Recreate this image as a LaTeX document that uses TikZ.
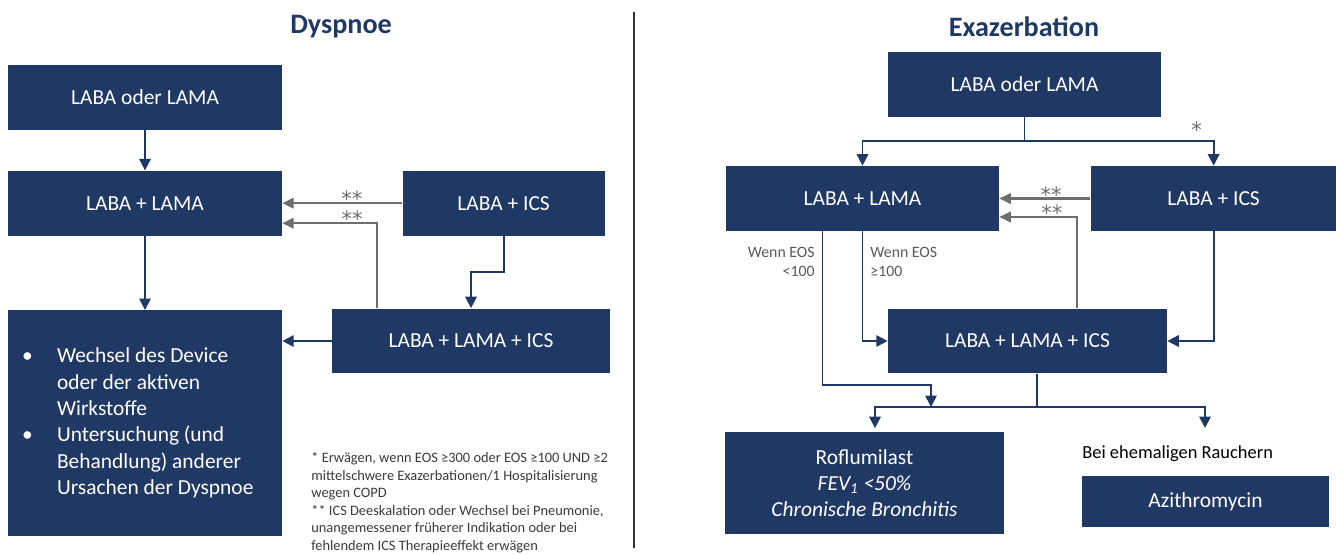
\documentclass[tikz,border=0pt]{standalone}
\usepackage{fontspec}
\setmainfont{Carlito}
\newfontfamily\starfont{DejaVu Sans}
\usepackage{tikz}
\usetikzlibrary{
    arrows.meta,
    calc,
    positioning
}
\definecolor{copdnavy}{HTML}{1F3864}
\definecolor{copdgrey}{HTML}{6E6E6E}
\definecolor{notegrey}{HTML}{595959}
\definecolor{notetext}{HTML}{3A3A3A}
\definecolor{rulegrey}{HTML}{333333}
\tikzstyle{therapy}=[
    rectangle,
    minimum height=1.3cm,
    inner sep=0pt,
    align=center,
    fill=copdnavy,
    text=white
]
\tikzstyle{heading}=[font=\bfseries\fontsize{16}{19}\selectfont,text=copdnavy]
\tikzstyle{cond}=[font=\fontsize{9}{10.8}\selectfont,text=notegrey,inner sep=4pt]
\tikzstyle{stars}=[font=\starfont\fontsize{12}{12}\selectfont,text=copdgrey,anchor=base,inner sep=0pt]
\tikzstyle{flowline}=[line width=1pt,draw=copdnavy]
\tikzstyle{arrow}=[flowline,-{Triangle[length=6.5pt,width=6.5pt]}]
\tikzstyle{backarrow}=[line width=1.2pt,draw=copdgrey,-{Triangle[length=6.5pt,width=6pt]}]

\begin{document}
\begin{tikzpicture}[x=0.02cm,y=-0.02cm,every node/.style={font=\fontsize{12.2}{15}\selectfont}]
\useasboundingbox (0,0) rectangle (1336,554);
\node[heading] (dysp) at (341,27) {Dyspnoe};
\node[heading] (exa) at (1024,27) {Exazerbation};
\draw[rulegrey,line width=1pt] (634,12) -- (634,548);

% left half
\node[therapy,minimum width=5.48cm] (b1) at (145,97.5) {LABA oder LAMA};
\node[therapy,minimum width=5.48cm,below=0.8cm of b1] (b2) {LABA + LAMA};
\node[therapy,minimum width=4.04cm,right=2.4cm of b2] (b3) {LABA + ICS};
\node[therapy,minimum width=5.48cm,minimum height=4.52cm,below=1.48cm of b2] (b5) {%
  \begin{tabular}{@{}p{0.7cm}@{}p{4.22cm}@{}}
  \textbullet & Wechsel des Device\\
   & oder der aktiven\\
   & Wirkstoffe\\
  \textbullet & Untersuchung (und\\
   & Behandlung) anderer\\
   & Ursachen der Dyspnoe
  \end{tabular}};
\node[therapy,minimum width=5.56cm] (b4) at (471,341) {LABA + LAMA + ICS};
\node[anchor=north west,inner sep=0pt,align=left,font=\fontsize{8.2}{10}\selectfont,text=notetext] (notes) at (311,452)
  {* Erwägen, wenn EOS ≥300 oder EOS ≥100 UND ≥2\\
   mittelschwere Exazerbationen/1 Hospitalisierung\\
   wegen COPD\\
   ** ICS Deeskalation oder Wechsel bei Pneumonie,\\
   unangemessener früherer Indikation oder bei\\
   fehlendem ICS Therapieeffekt erwägen};

\draw[arrow] (b1) -- (b2);
\draw[arrow] (b2) -- (b5);
\draw[backarrow] (b3) -- node[stars,pos=0.42,yshift=-2pt]{**} (b2);
\draw[backarrow] ([xshift=0.9cm]b4.north west) |- node[stars,pos=0.63,yshift=-2pt]{**} ([yshift=-0.4cm]b2.east);
\draw[arrow] (b3.south) -- ++(0,36) -| (b4);
\draw[arrow] (b4) -- (b4 -| b5.east);

% right half
\node[therapy,minimum width=5.46cm] (r1) at (1024.5,84.5) {LABA oder LAMA};
\node[therapy,minimum width=5.46cm] (r2) at (862.5,198.5) {LABA + LAMA};
\node[therapy,minimum width=4.92cm,right=1.82cm of r2] (r3) {LABA + ICS};
\node[therapy,minimum width=5.58cm] (r4) at (1027.5,341) {LABA + LAMA + ICS};
\node[therapy,minimum width=5.58cm,minimum height=2.04cm] (r5) at (864.5,483)
  {Roflumilast\\\textit{FEV\textsubscript{1} <50\%}\\\textit{Chronische Bronchitis}};
\node[anchor=west,inner sep=0pt,font=\fontsize{10.5}{12}\selectfont] (smoker) at (1082,454) {Bei ehemaligen Rauchern};
\node[therapy,minimum width=4.94cm,minimum height=1.02cm] (azi) at (1205.5,501.5) {Azithromycin};
\coordinate (fork) at (1037,407);
\coordinate (merge) at (931,407);
\coordinate (smokerup) at (1205,428);

\draw[arrow] (r1.south) -- ++(0,24) -| (r2);
\draw[arrow] (r1.south) -- ++(0,24) -| node[stars,pos=0.455,yshift=2pt]{*} (r3);
\draw[backarrow] (r3) -- node[stars,pos=0.43,yshift=-2pt]{**} (r2);
\draw[backarrow] ([xshift=3.78cm]r4.north west) |- node[stars,pos=0.66,yshift=-2pt]{**} ([yshift=-0.37cm]r2.east);
\draw[arrow] (r2) |- node[cond,pos=0.14,right,align=left]{Wenn EOS\\≥100} (r4);
\draw[arrow] ([xshift=-0.8cm]r2.south) -- node[cond,pos=0.2,left,align=right]{Wenn EOS\\<100} ++(0,154) -| (merge);
\draw[arrow] (r3) |- (r4);
\draw[flowline] ([xshift=0.19cm]r4.south) -- (fork);
\draw[arrow,shorten >=2pt] (fork) -| ([xshift=0.21cm]r5.north);
\draw[arrow] (fork) -| (smokerup);
\end{tikzpicture}
\end{document}
